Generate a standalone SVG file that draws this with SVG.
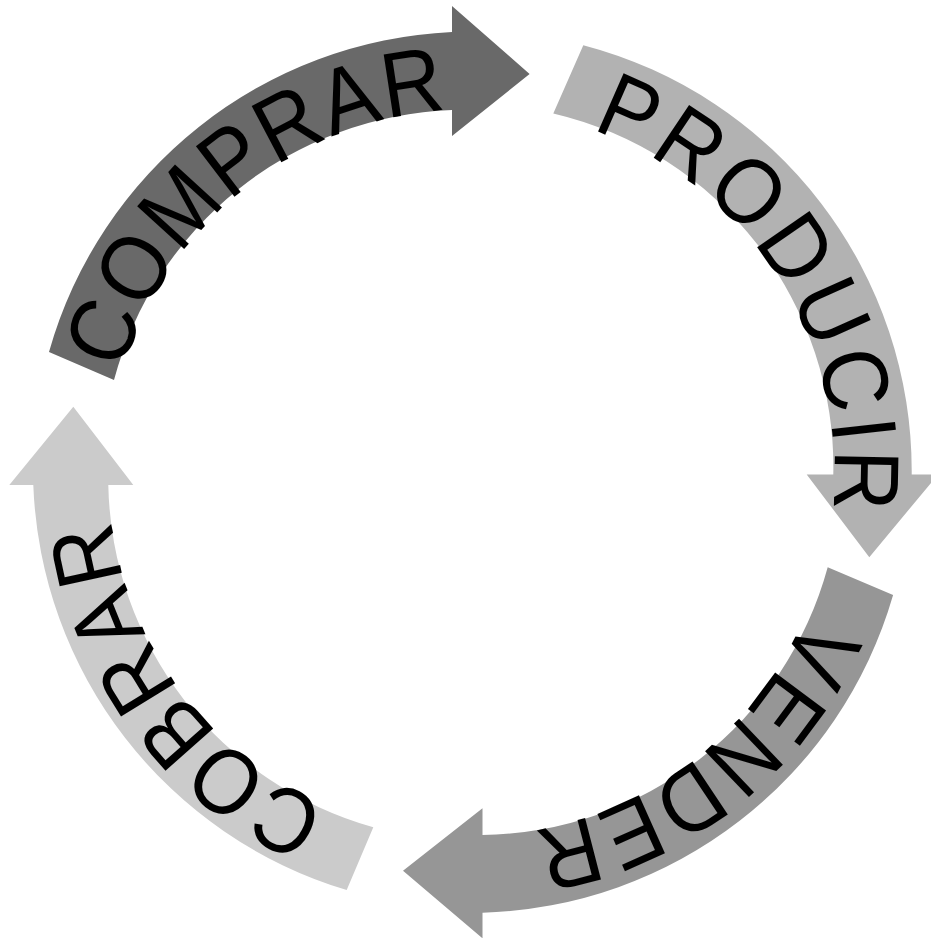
<svg xmlns="http://www.w3.org/2000/svg" width="931" height="938" viewBox="0 0 931 938">
<style>
.lbl{font-family:"Liberation Sans",Arial,sans-serif;font-size:84px;fill:#000;text-anchor:middle;}
</style>
<g id="connectors"></g>
<g id="comprar">
<path d="M49,352 A440,440 0 0 1 452,32 L452,6 L529.6,74 L452,136 L452,110 A363,363 0 0 0 114,380 Z" fill="#696969"/>
<g class="lbl">
<text transform="translate(132.39,343) rotate(-69.1) scale(1,1.1)">C</text>
<text transform="translate(161.06,284.36) rotate(-58.78) scale(1,1.1)">O</text>
<text transform="translate(203.05,228.15) rotate(-47.69) scale(1,1.1)">M</text>
<text transform="translate(251.16,184.03) rotate(-37.37) scale(1,1.1)">P</text>
<text transform="translate(302.15,151.42) rotate(-27.81) scale(1,1.1)">R</text>
<text transform="translate(357.75,127.78) rotate(-18.26) scale(1,1.1)">A</text>
<text transform="translate(416.59,113.68) rotate(-8.7) scale(1,1.1)">R</text>
</g>
</g>
<g id="producir">
<path d="M583.3,45.2 A440,440 0 0 1 911.7,474.5 L938,474.5 L869.3,557.2 L806.7,474.5 L833.3,474.5 A363,363 0 0 0 553.3,113.4 Z" fill="#b2b2b2"/>
<g class="lbl">
<text transform="translate(617.41,140.12) rotate(23.7) scale(1,1.1)">P</text>
<text transform="translate(673.27,170.76) rotate(33.77) scale(1,1.1)">R</text>
<text transform="translate(726.38,214.03) rotate(44.6) scale(1,1.1)">O</text>
<text transform="translate(770.43,266.59) rotate(55.44) scale(1,1.1)">D</text>
<text transform="translate(802.83,324.22) rotate(65.89) scale(1,1.1)">U</text>
<text transform="translate(824.22,386.78) rotate(76.34) scale(1,1.1)">C</text>
<text transform="translate(832.32,432.79) rotate(83.72) scale(1,1.1)">I</text>
<text transform="translate(834.43,479.47) rotate(91.1) scale(1,1.1)">R</text>
</g>
</g>
<g id="vender">
<path d="M893.1,595 A440,440 0 0 1 482.5,912.7 L482.5,938.3 L403,870.7 L482.5,808.3 L482.5,835 A363,363 0 0 0 827.7,567.3 Z" fill="#969696"/>
<g class="lbl">
<text transform="translate(793.48,640.11) rotate(117.5) scale(1,1.1)">V</text>
<text transform="translate(762.46,689.53) rotate(126.72) scale(1,1.1)">E</text>
<text transform="translate(722.19,735.01) rotate(136.32) scale(1,1.1)">N</text>
<text transform="translate(672.9,774.49) rotate(146.3) scale(1,1.1)">D</text>
<text transform="translate(619.72,803.86) rotate(155.9) scale(1,1.1)">E</text>
<text transform="translate(562.39,823.94) rotate(165.5) scale(1,1.1)">R</text>
</g>
</g>
<g id="cobrar">
<path d="M346.7,890 A440,440 0 0 1 33.3,485 L9.3,485 L73.3,406.7 L133.3,485 L108.3,485 A363,363 0 0 0 373.3,827.3 Z" fill="#cbcbcb"/>
<g class="lbl">
<text transform="translate(301.08,793.01) rotate(208) scale(1,1.1)">C</text>
<text transform="translate(245.63,756.66) rotate(218.48) scale(1,1.1)">O</text>
<text transform="translate(199.3,712.64) rotate(228.58) scale(1,1.1)">B</text>
<text transform="translate(162.7,663.29) rotate(238.29) scale(1,1.1)">R</text>
<text transform="translate(134.96,608.54) rotate(247.99) scale(1,1.1)">A</text>
<text transform="translate(116.83,549.83) rotate(257.7) scale(1,1.1)">R</text>
</g>
</g>
</svg>
